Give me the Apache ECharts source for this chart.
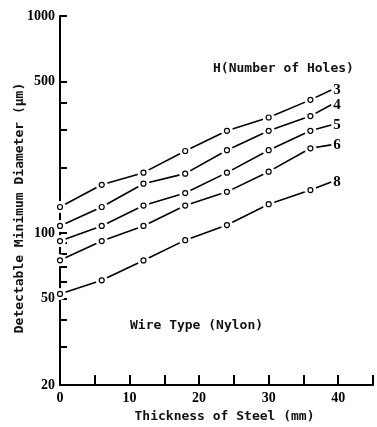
<!DOCTYPE html>
<html>
<head>
<meta charset="utf-8">
<script src="https://cdn.jsdelivr.net/npm/echarts@6/dist/echarts.min.js"></script>
<style>
  html, body { margin: 0; padding: 0; background: #fff; }
  #chart { width: 377px; height: 427px; }
</style>
</head>
<body>
<div id="chart"></div>
<script>
// thickness of steel (mm); last point is the end of the drawn line, no marker
const thickness = [0, 6, 12, 18, 24, 30, 36, 39];

// detectable minimum diameter (um) per number of holes
const holes3 = [132, 167, 190, 239, 296, 341, 411, 456];
const holes4 = [108, 132, 169, 188, 241, 296, 346, 390];
const holes5 = [92, 108, 134, 153, 190, 241, 296, 315];
const holes6 = [75, 92, 108, 134, 155, 192, 246, 255];
const holes8 = [52.5, 60.7, 74.9, 92.9, 109, 136, 158, 172];

const seriesNames = ["3", "4", "5", "6", "8"];
const seriesValues = [holes3, holes4, holes5, holes6, holes8];

const xLabels = [0, 10, 20, 30, 40];
const xTicks = [0, 5, 10, 15, 20, 25, 30, 35, 40, 45];
const yLabels = [20, 50, 100, 500, 1000];
const yTicks = [20, 30, 40, 50, 60, 70, 80, 90, 100, 200, 300, 400, 500, 1000];

const monoFont = "'DejaVu Sans Mono', monospace";
const numFont = "'Liberation Serif', serif";

const chart = echarts.init(document.getElementById("chart"), null, { renderer: "canvas" });

// points with a marker (the last point only ends the line)
const markerPoints = (vals) =>
  thickness.slice(0, thickness.length - 1).map((x, j) => [x, vals[j]]);

const lineSeries = seriesNames.map((name, i) => ({
  name: name,
  type: "line",
  data: thickness.map((x, j) => [x, seriesValues[i][j]]),
  showSymbol: false,
  symbol: "none",
  lineStyle: { color: "#000", width: 1.6 },
  clip: false,
  endLabel: {
    show: true,
    formatter: "{a}",
    distance: 2,
    fontFamily: numFont,
    fontWeight: "bold",
    fontSize: 15,
    color: "#000"
  },
  z: 2
}));

// white halo behind each marker leaves a small gap in the line
const haloSeries = seriesNames.map((name, i) => ({
  name: name + "-halo",
  type: "scatter",
  data: markerPoints(seriesValues[i]),
  symbol: "circle",
  symbolSize: 12,
  itemStyle: { color: "#fff", opacity: 1 },
  silent: true,
  clip: false,
  z: 3
}));

const markerSeries = seriesNames.map((name, i) => ({
  name: name + "-marker",
  type: "scatter",
  data: markerPoints(seriesValues[i]),
  symbol: "circle",
  symbolSize: 5,
  itemStyle: { color: "#fff", borderColor: "#000", borderWidth: 1.2, opacity: 1 },
  clip: false,
  z: 4
}));

const option = {
  backgroundColor: "#fff",
  animation: false,
  grid: { left: 60, right: 4, top: 16, bottom: 42, outerBoundsMode: "none", containLabel: false },
  xAxis: {
    type: "value",
    min: 0,
    max: 45,
    interval: 5,
    name: "Thickness of Steel (mm)",
    nameLocation: "middle",
    nameGap: 24,
    nameTextStyle: { fontFamily: monoFont, fontWeight: "bold", fontSize: 13, color: "#111", padding: [0, 0, 0, 16] },
    axisLine: { lineStyle: { color: "#000", width: 2 } },
    axisTick: { inside: true, length: 10, customValues: xTicks, lineStyle: { color: "#000", width: 2 } },
    axisLabel: {
      customValues: xLabels,
      margin: 6,
      fontFamily: numFont,
      fontWeight: "bold",
      fontSize: 14,
      color: "#000"
    },
    splitLine: { show: false }
  },
  yAxis: {
    type: "log",
    logBase: 10,
    min: 20,
    max: 1000,
    axisLine: { show: true, lineStyle: { color: "#000", width: 2 } },
    axisTick: { show: true, inside: true, length: 7, customValues: yTicks, lineStyle: { color: "#000", width: 2 } },
    axisLabel: {
      customValues: yLabels,
      formatter: (v) => String(Math.round(v)),
      margin: 5,
      fontFamily: numFont,
      fontWeight: "bold",
      fontSize: 14,
      color: "#000"
    },
    splitLine: { show: false },
    minorTick: { show: false }
  },
  graphic: [
    {
      type: "text",
      x: 20,
      y: 208,
      rotation: Math.PI / 2,
      style: {
        text: "Detectable Minimum Diameter (\u03bcm)",
        font: "bold 13px " + monoFont,
        fill: "#111",
        align: "center",
        verticalAlign: "middle"
      }
    },
    {
      type: "text",
      left: 213,
      top: 62,
      style: { text: "H(Number of Holes)", font: "bold 13px " + monoFont, fill: "#111" }
    },
    {
      type: "text",
      left: 130,
      top: 319,
      style: { text: "Wire Type (Nylon)", font: "bold 13px " + monoFont, fill: "#111" }
    }
  ],
  series: lineSeries.concat(haloSeries, markerSeries)
};

chart.setOption(option);
</script>
</body>
</html>
